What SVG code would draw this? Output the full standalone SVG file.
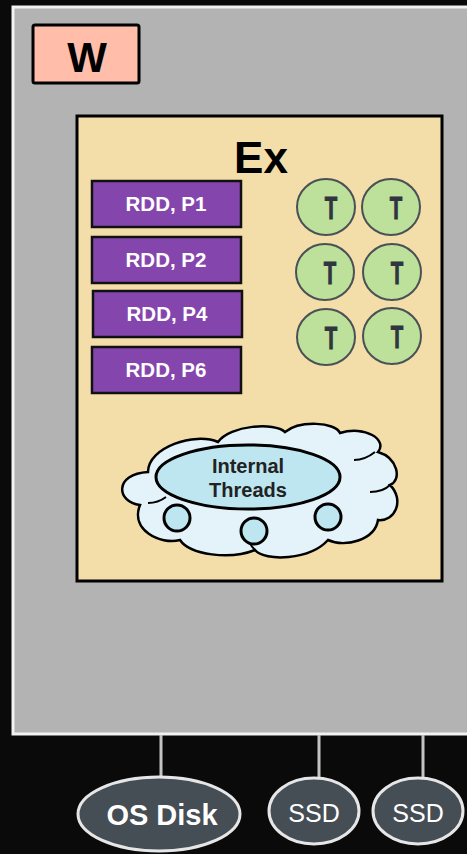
<svg xmlns="http://www.w3.org/2000/svg" width="467" height="854" viewBox="0 0 467 854">
<style>
.lbl{font-family:"Liberation Sans",Arial,sans-serif;font-weight:bold;text-anchor:middle}
.rdd rect{fill:#8446ad;stroke:#111;stroke-width:2.5}
.rdd text{fill:#fff;font-size:20.5px}
.t ellipse{fill:#bde09a;stroke:#4a5056;stroke-width:2}
.t text{fill:#2f3640;stroke:#2f3640;stroke-width:0.9;font-size:31px}
.conn line{stroke:#c4c4c4;stroke-width:3}
.disk ellipse{fill:#454d55;stroke:#e6e6e6;stroke-width:3}
.ssd text{font-family:"Liberation Sans",Arial,sans-serif;font-weight:normal;fill:#fff;font-size:25px;text-anchor:middle}
.dot{fill:#bde6f0;stroke:#000;stroke-width:3}
</style>
<rect x="0" y="0" width="467" height="854" fill="#0a0a0a"/>
<g id="worker">
<rect x="13" y="7" width="470" height="727" fill="#b3b3b3" stroke="#f2f2f2" stroke-width="3"/>
</g>
<g id="w-label">
<rect x="33" y="25" width="106" height="58" rx="2" fill="#ffbdaa" stroke="#000" stroke-width="3"/>
<text class="lbl" x="87" y="72" font-size="42">W</text>
</g>
<g id="executor">
<rect x="77" y="116" width="365" height="465" fill="#f3deaa" stroke="#000" stroke-width="3"/>
<text class="lbl" x="261" y="173" font-size="44">Ex</text>
</g>
<g id="rdd-p1" class="rdd"><rect x="92" y="181" width="149" height="46"/><text class="lbl" x="166" y="211">RDD, P1</text></g>
<g id="rdd-p2" class="rdd"><rect x="92" y="237" width="149" height="46"/><text class="lbl" x="166" y="267">RDD, P2</text></g>
<g id="rdd-p4" class="rdd"><rect x="93" y="291" width="149" height="46"/><text class="lbl" x="167" y="321">RDD, P4</text></g>
<g id="rdd-p6" class="rdd"><rect x="92" y="347" width="149" height="46"/><text class="lbl" x="166" y="377">RDD, P6</text></g>
<g id="t1" class="t"><ellipse cx="326" cy="207" rx="29" ry="28"/><text class="lbl" transform="translate(331,219) scale(0.66,1)">T</text></g>
<g id="t2" class="t"><ellipse cx="391" cy="207" rx="29" ry="28"/><text class="lbl" transform="translate(396,219) scale(0.66,1)">T</text></g>
<g id="t3" class="t"><ellipse cx="325" cy="272" rx="29" ry="28"/><text class="lbl" transform="translate(330,284) scale(0.66,1)">T</text></g>
<g id="t4" class="t"><ellipse cx="392" cy="272" rx="29" ry="28"/><text class="lbl" transform="translate(397,284) scale(0.66,1)">T</text></g>
<g id="t5" class="t"><ellipse cx="326" cy="337" rx="29" ry="28"/><text class="lbl" transform="translate(331,349) scale(0.66,1)">T</text></g>
<g id="t6" class="t"><ellipse cx="392" cy="336" rx="29" ry="28"/><text class="lbl" transform="translate(397,348) scale(0.66,1)">T</text></g>
<g id="internal-threads">
<path d="M 140 505 C 116 502 114 474 148 472 C 148 447 195 432 218 442 C 230 425 275 422 285 432 C 300 420 335 422 340 433 C 365 425 388 440 378 452 C 398 458 402 480 390 485 C 405 500 395 522 378 520 C 375 540 345 548 328 540 C 310 560 265 562 255 550 C 230 560 190 555 180 540 C 160 545 130 530 140 505 Z" fill="#e3f3f9" stroke="#000" stroke-width="2.5"/>
<path d="M 148 503 C 155 503 162 500 166 497 M 375 452 C 370 456 362 460 354 460 M 390 485 C 385 490 378 492 370 492 M 255 550 C 250 545 248 540 248 536" fill="none" stroke="#000" stroke-width="2"/>
<ellipse cx="248" cy="477" rx="92" ry="32" fill="#bde6f0" stroke="#000" stroke-width="3"/>
<text class="lbl" x="248" y="473" font-size="20" fill="#222">Internal</text>
<text class="lbl" x="248" y="497" font-size="20" fill="#222">Threads</text>
<circle class="dot" cx="177" cy="518" r="13"/>
<circle class="dot" cx="254" cy="531" r="13"/>
<circle class="dot" cx="328" cy="517" r="13"/>
</g>
<g id="connectors" class="conn">
<line x1="161" y1="735" x2="161" y2="776"/>
<line x1="319" y1="735" x2="319" y2="778"/>
<line x1="423" y1="735" x2="423" y2="778"/>
</g>
<g id="os-disk" class="disk">
<ellipse cx="159" cy="814" rx="81" ry="37"/>
<text class="lbl" x="162" y="825" font-size="29" fill="#fff">OS Disk</text>
</g>
<g id="ssd1" class="disk ssd">
<ellipse cx="314" cy="811" rx="45" ry="33"/>
<text x="314" y="822">SSD</text>
</g>
<g id="ssd2" class="disk ssd">
<ellipse cx="418" cy="811" rx="45" ry="33"/>
<text x="418" y="822">SSD</text>
</g>
</svg>
